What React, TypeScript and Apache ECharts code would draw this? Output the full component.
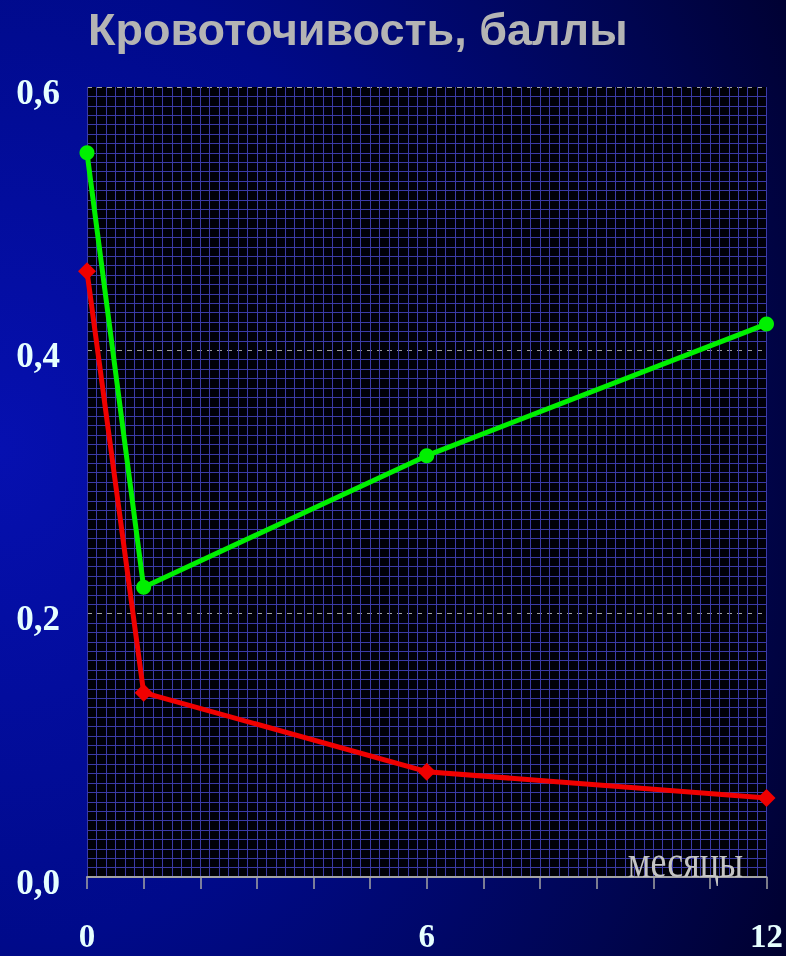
import React, { useEffect, useRef } from "react";
import * as echarts from "echarts";

const months = [0, 1, 6, 12];
const greenValues = [0.55, 0.22, 0.32, 0.42];
const redValues = [0.46, 0.14, 0.08, 0.06];
const xTickLabels = ["0", "6", "12"];
const titleText = "Кровоточивость, баллы";
const xAxisText = "месяцы";

export default function App() {
  const ref = useRef<HTMLDivElement>(null);
  useEffect(() => {
    if (!ref.current) return;
    const chart = echarts.init(ref.current, undefined, { renderer: "svg" });
    const gridLine = { color: "#3a3aa6", width: 1 };
    chart.setOption({
      animation: false,
      backgroundColor: {
        type: "radial",
        x: 0,
        y: 0.47,
        r: 1.15,
        colorStops: [
          { offset: 0, color: "#0610b0" },
          { offset: 0.45, color: "#000a8a" },
          { offset: 0.8, color: "#000550" },
          { offset: 1, color: "#00002c" },
        ],
      },
      title: {
        text: titleText,
        left: 83,
        top: 2,
        textStyle: {
          color: "#b4b4b4",
          fontFamily: "Liberation Sans, Arial, sans-serif",
          fontWeight: "bold",
          fontSize: 45,
        },
      },
      grid: {
        left: 87,
        right: 18,
        top: 87,
        bottom: 79,
        show: true,
        backgroundColor: "#000008",
        borderWidth: 0,
      },
      xAxis: {
        type: "value",
        min: 0,
        max: 12,
        interval: 1,
        axisLine: { show: true, lineStyle: { color: "#a4a4a4", width: 2 } },
        axisTick: { show: true, length: 12, lineStyle: { color: "#a4a4a4", width: 1.5 } },
        axisLabel: {
          margin: 46,
          color: "#e6ffff",
          fontFamily: "Liberation Serif, Times New Roman, serif",
          fontWeight: "bold",
          fontSize: 33,
          lineHeight: 26,
          formatter: (v: number) => (xTickLabels.includes(String(v)) ? String(v) : ""),
        },
        splitLine: { show: true, lineStyle: gridLine },
        minorTick: { show: false, splitNumber: 6 },
        minorSplitLine: { show: true, lineStyle: gridLine },
      },
      yAxis: {
        type: "value",
        min: 0,
        max: 0.6,
        interval: 0.2,
        axisLine: { show: false },
        axisTick: { show: false },
        axisLabel: {
          margin: 27,
          color: "#e6ffff",
          fontFamily: "Liberation Serif, Times New Roman, serif",
          fontWeight: "bold",
          fontSize: 35,
          verticalAlign: "top",
          lineHeight: 10,
          formatter: (v: number) => v.toFixed(1).replace(".", ","),
        },
        splitLine: { show: true, lineStyle: { color: "#a0a0a0", width: 1.2, type: [5, 5] } },
        minorTick: { show: false, splitNumber: 28 },
        minorSplitLine: { show: true, lineStyle: gridLine },
      },
      graphic: [
        {
          type: "text",
          x: 743,
          y: 884,
          scaleX: 0.78,
          z: 10,
          style: {
            text: xAxisText,
            fill: "#c4c4c4",
            font: 'normal 46px "Liberation Serif", "Times New Roman", serif',
            textAlign: "right",
            textVerticalAlign: "bottom",
          },
        },
      ],
      series: [
        {
          type: "line",
          data: months.map((m, i) => [m, greenValues[i]]),
          symbol: "circle",
          symbolSize: 15,
          lineStyle: { color: "#00f000", width: 5 },
          itemStyle: { color: "#00f000" },
          z: 5,
        },
        {
          type: "line",
          data: months.map((m, i) => [m, redValues[i]]),
          symbol: "diamond",
          symbolSize: 18,
          lineStyle: { color: "#f00000", width: 5 },
          itemStyle: { color: "#f00000" },
          z: 5,
        },
      ],
    });
    return () => chart.dispose();
  }, []);
  return (
    <div
      ref={ref}
      style={{ position: "fixed", left: 0, top: 0, width: 786, height: 956 }}
    />
  );
}
